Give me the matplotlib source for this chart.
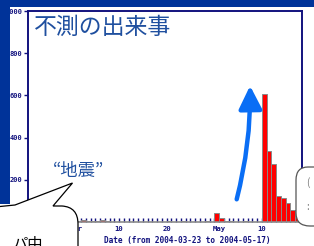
import matplotlib
matplotlib.use("Agg")
import matplotlib.pyplot as plt
import matplotlib.dates as mdates
from matplotlib.patches import Rectangle, PathPatch, FancyArrowPatch
from matplotlib.path import Path
import pandas as pd

plt.rcParams["font.family"] = ["Noto Sans CJK JP", "DejaVu Sans"]

# daily counts, 2004-03-23 .. 2004-05-17
dates = pd.date_range("2004-03-23", "2004-05-17", freq="D")
counts = [3, 2, 4, 1, 3, 2, 5, 2, 3,
          6, 8, 5, 4, 7, 8, 6, 2, 1, 2, 1, 0, 1, 2, 1, 0, 1, 2, 1,
          3, 1, 2, 3, 1, 2, 1, 2, 3, 2, 41, 20, 6, 3, 2, 1, 3, 2, 1, 2,
          605, 335, 277, 124, 113, 90, 57, 57]

tick_dates = ["2004-04-01", "2004-04-10", "2004-04-20", "2004-05-01", "2004-05-10"]
tick_labels = ["Apr", "10", "20", "May", "10"]
y_ticks = [200, 400, 600, 800, 1000]

title = "不測の出来事"
callout = "“地震”"
xlabel = "Date (from 2004-03-23 to 2004-05-17)"

W, H = 314, 246
navy = "#12127e"
band = "#003399"
title_blue = "#1f4f9f"


def fx(px):
    return px / W


def fy(py):
    return 1 - py / H


def fig_path(points, codes):
    return Path([(fx(a), fy(b)) for a, b in points], codes)


fig = plt.figure(figsize=(W / 100, H / 100), dpi=100)
fig.patch.set_facecolor("white")

# slide decoration
fig.patches.append(Rectangle((0, fy(7)), 1, 7 / H, transform=fig.transFigure,
                             facecolor=band, edgecolor="none", zorder=0))
fig.patches.append(Rectangle((0, fy(204)), fx(10), 1 - fy(204), transform=fig.transFigure,
                             facecolor=band, edgecolor="none", zorder=0))

ax = fig.add_axes([fx(28), fy(222), fx(302) - fx(28), fy(11) - fy(222)])
x = mdates.date2num(dates.to_pydatetime())
ax.bar(x, counts, width=1.0, align="edge", color="#ff0000", edgecolor="#8a8a8a", linewidth=0.7)

start = x[0]
ax.set_xlim(start - 1.17, start + 56.45)
ax.set_ylim(0, 1000)
ax.set_axisbelow(True)

ax.set_xticks(mdates.date2num(pd.to_datetime(tick_dates).to_pydatetime()))
ax.set_xticklabels(tick_labels)
ax.set_xticks(x, minor=True)
ax.tick_params(axis="x", which="both", direction="in", length=3, width=1, color=navy,
               labelsize=5.2, labelcolor=navy, pad=3)
for t in ax.get_xticklabels():
    t.set_family("DejaVu Sans Mono")
    t.set_weight("bold")

ax.set_yticks(y_ticks)
ax.set_yticklabels([str(v) for v in y_ticks])
ax.tick_params(axis="y", direction="out", length=3, width=1, color=navy,
               labelsize=5, labelcolor=navy, pad=1)
for t in ax.get_yticklabels():
    t.set_family("DejaVu Sans Mono")
    t.set_weight("bold")

for side in ["left", "top", "right"]:
    ax.spines[side].set_color(navy)
    ax.spines[side].set_linewidth(1.4)
ax.spines["bottom"].set_color("#8c8c8c")
ax.spines["bottom"].set_linewidth(1.2)

fig.text(fx(187), fy(241), xlabel, ha="center", va="center", fontsize=5.6,
         family="DejaVu Sans Mono", weight="bold", color=navy)

fig.text(fx(34), fy(27), title, ha="left", va="center", fontsize=16.5, color=title_blue)
fig.text(fx(78), fy(171), callout, ha="center", va="center", fontsize=12.5, color=title_blue)

# rising arrow
arrow = FancyArrowPatch((fx(236), fy(202)), (fx(250), fy(83)), transform=fig.transFigure,
                        connectionstyle="arc3,rad=0.07",
                        arrowstyle="-|>,head_length=1.0,head_width=0.5",
                        mutation_scale=14, color="#0a6ef5", linewidth=3.2, zorder=5)
fig.patches.append(arrow)

# speech bubbles, running off the slide
left = [(-5, 207), (15, 205), (72.5, 183), (53, 206), (62, 206), (78, 207), (78, 224),
        (78, 260), (-5, 260), (-5, 207)]
lcodes = [Path.MOVETO, Path.LINETO, Path.LINETO, Path.LINETO, Path.LINETO, Path.CURVE3,
          Path.CURVE3, Path.LINETO, Path.LINETO, Path.CLOSEPOLY]
fig.patches.append(PathPatch(fig_path(left, lcodes), transform=fig.transFigure,
                             facecolor="white", edgecolor="black", linewidth=0.9, zorder=6))
fig.text(fx(12), fy(236), "パ中", ha="left", va="top", fontsize=11, color="black", zorder=7)

right = [(330, 167), (308, 167), (296, 167), (296, 180), (296, 213), (296, 226), (310, 226),
         (330, 226), (330, 167)]
rcodes = [Path.MOVETO, Path.LINETO, Path.CURVE3, Path.CURVE3, Path.LINETO, Path.CURVE3,
          Path.CURVE3, Path.LINETO, Path.CLOSEPOLY]
fig.patches.append(PathPatch(fig_path(right, rcodes), transform=fig.transFigure,
                             facecolor="white", edgecolor="#555555", linewidth=0.9, zorder=6))
fig.text(fx(306), fy(183), "(", ha="left", va="center", fontsize=7, color="#777777", zorder=7)
fig.text(fx(306), fy(207), ":", ha="left", va="center", fontsize=7, color="#777777", zorder=7)

fig.savefig("out.png", dpi=100)
